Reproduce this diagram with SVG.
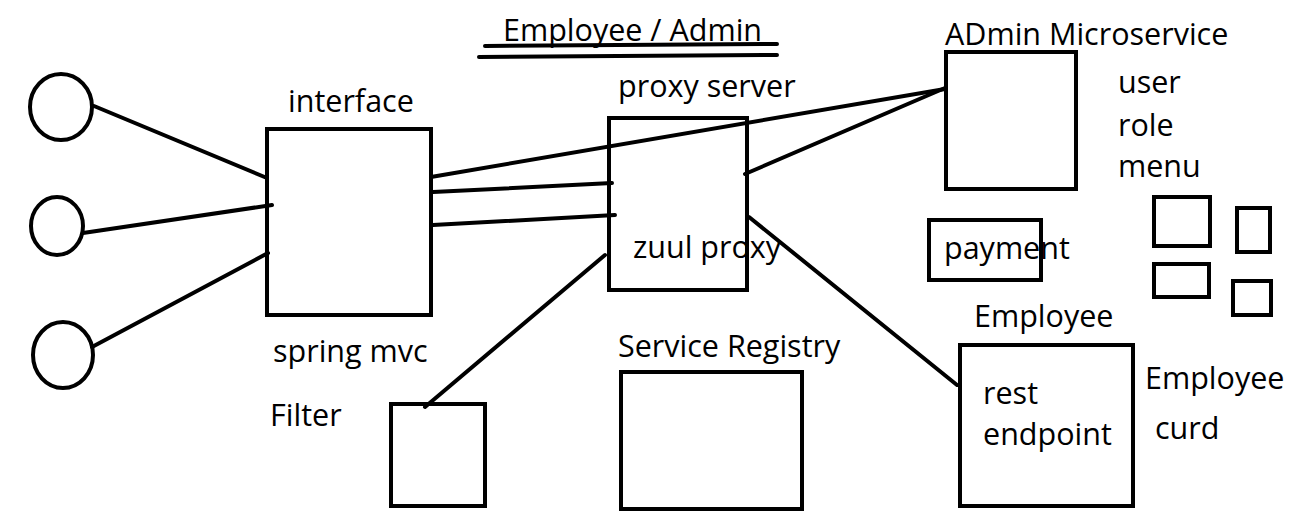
<svg xmlns="http://www.w3.org/2000/svg" width="1298" height="520" viewBox="0 0 1298 520">
<style>
.s{fill:none;stroke:#000;stroke-width:4}
.c{stroke:#000;stroke-width:4;fill:none;stroke-linecap:round}
text{font-family:"Open Sans","Noto Sans",sans-serif;font-size:30.5px;fill:#000}
</style>
<rect width="1298" height="520" fill="#fff"/>
<g id="connectors">
<line class="c" x1="94" y1="106" x2="267" y2="178"/>
<line class="c" x1="83" y1="233" x2="272" y2="205"/>
<line class="c" x1="92" y1="347" x2="268" y2="253"/>
<line class="c" x1="431" y1="177" x2="945" y2="89"/>
<line class="c" x1="433" y1="192" x2="612" y2="183"/>
<line class="c" x1="433" y1="225" x2="615" y2="215"/>
<line class="c" x1="745" y1="174" x2="945" y2="88"/>
<line class="c" x1="749" y1="217" x2="957" y2="385"/>
<line class="c" x1="605" y1="255" x2="425" y2="407"/>
</g>
<g id="title">
<text x="503" y="41">Employee / Admin</text>
<line class="c" x1="485" y1="46" x2="777" y2="44" stroke-width="5"/>
<line class="c" x1="479" y1="57" x2="777" y2="55" stroke-width="5"/>
</g>
<g id="user1"><ellipse class="s" cx="61" cy="107" rx="31" ry="33"/></g>
<g id="user2"><ellipse class="s" cx="57" cy="226" rx="26" ry="29"/></g>
<g id="user3"><ellipse class="s" cx="63" cy="355" rx="30" ry="33"/></g>
<g id="interface">
<rect class="s" x="267" y="129" width="164" height="186"/>
<text x="288" y="112">interface</text>
<text x="273" y="362">spring mvc</text>
</g>
<g id="proxy">
<rect class="s" x="609" y="118" width="138" height="172"/>
<text x="618" y="97">proxy server</text>
<text x="633" y="258">zuul proxy</text>
</g>
<g id="filter">
<rect class="s" x="391" y="404" width="94" height="102"/>
<text x="270" y="426">Filter</text>
</g>
<g id="registry">
<rect class="s" x="621" y="372" width="181" height="137"/>
<text x="618" y="357">Service Registry</text>
</g>
<g id="admin">
<rect class="s" x="946" y="52" width="130" height="137"/>
<text x="945" y="45">ADmin Microservice</text>
<text x="1118" y="93">user</text>
<text x="1118" y="136">role</text>
<text x="1118" y="177">menu</text>
</g>
<g id="payment">
<rect class="s" x="929" y="220" width="112" height="60"/>
<text x="944" y="259">payment</text>
</g>
<g id="smallboxes">
<rect class="s" x="1154" y="197" width="56" height="49"/>
<rect class="s" x="1237" y="208" width="33" height="44"/>
<rect class="s" x="1154" y="264" width="55" height="33"/>
<rect class="s" x="1233" y="281" width="38" height="34"/>
</g>
<g id="employee">
<rect class="s" x="960" y="345" width="173" height="161"/>
<text x="974" y="327">Employee</text>
<text x="983" y="404">rest</text>
<text x="983" y="445">endpoint</text>
<text x="1145" y="389">Employee</text>
<text x="1155" y="439">curd</text>
</g>
</svg>
